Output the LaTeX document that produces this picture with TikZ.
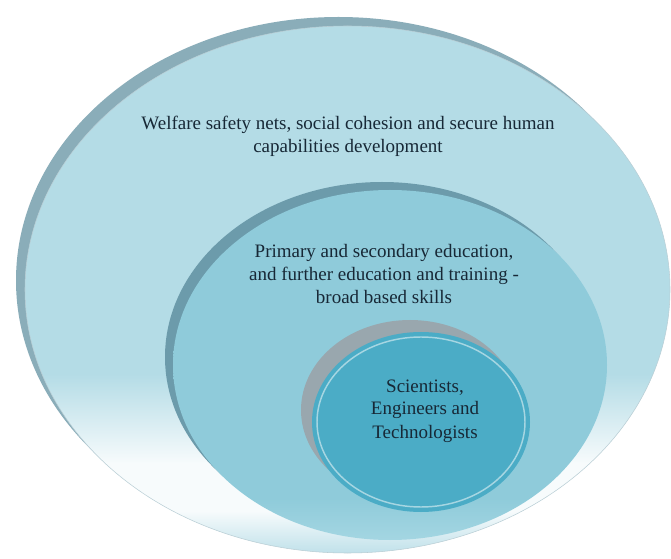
\documentclass[tikz,border=0pt]{standalone}
\usepackage{fontspec}
\newfontfamily\labelfont{Liberation Serif}
\usetikzlibrary{positioning}

\definecolor{outerfill}{HTML}{B4DCE6}
\definecolor{outerrim}{HTML}{8AADB9}
\definecolor{outerlow}{HTML}{C0E1EA}
\definecolor{outerwhite}{HTML}{F7FBFC}
\definecolor{midfill}{HTML}{8FCBDA}
\definecolor{midrim}{HTML}{6C9BAB}
\definecolor{midlow}{HTML}{A4D6E2}
\definecolor{corefill}{HTML}{4BACC6}
\definecolor{corerim}{HTML}{99A7AE}
\definecolor{corering}{HTML}{A6D6E2}
\definecolor{labeltext}{HTML}{172836}

% light bottom band of the outer and middle rings
\pgfdeclareverticalshading{outershade}{100bp}{color(0bp)=(outerlow); color(25bp)=(outerlow); color(29bp)=(outerwhite); color(33.5bp)=(outerwhite); color(42bp)=(outerfill); color(100bp)=(outerfill)}
\pgfdeclareverticalshading{midshade}{100bp}{color(0bp)=(midlow); color(25bp)=(midlow); color(31bp)=(midfill); color(100bp)=(midfill)}

\begin{document}
\begin{tikzpicture}[x=0.75pt, y=-0.75pt,
    ringlabel/.style={anchor=base, align=center, inner sep=0pt, text=labeltext,
        font=\labelfont\fontsize{14.25}{17.25}\selectfont}]
    \path[use as bounding box, fill=white] (0,0) rectangle (671,559);

    % outer ring
    \fill[outerrim] (338.5,280.5) ellipse [x radius=322.5, y radius=263.5];
    \shade[shading=outershade, draw=outerrim!60, line width=0.4pt]
        (347.5,289.5) ellipse [x radius=322.5, y radius=263.5];

    % middle ring
    \fill[midrim] (382,357) ellipse [x radius=217, y radius=175];
    \shade[shading=midshade] (390,365) ellipse [x radius=217, y radius=175];

    % core
    \fill[corerim] (410,410) ellipse [x radius=109, y radius=90];
    \fill[corefill] (421,422) ellipse [x radius=109, y radius=90];
    \draw[corering, line width=1.1pt] (421,422) ellipse [x radius=104, y radius=85];

    % labels sit on the baseline of their last line
    \node[ringlabel] (welfare) at (348,153)
        {Welfare safety nets, social cohesion and secure human\\capabilities development};
    \node[ringlabel] (schooling) at (384,304)
        {Primary and secondary education,\\and further education and training -\\broad based skills};
    \node[ringlabel] (scientists) at (425,438)
        {Scientists,\\Engineers and\\Technologists};
\end{tikzpicture}
\end{document}
